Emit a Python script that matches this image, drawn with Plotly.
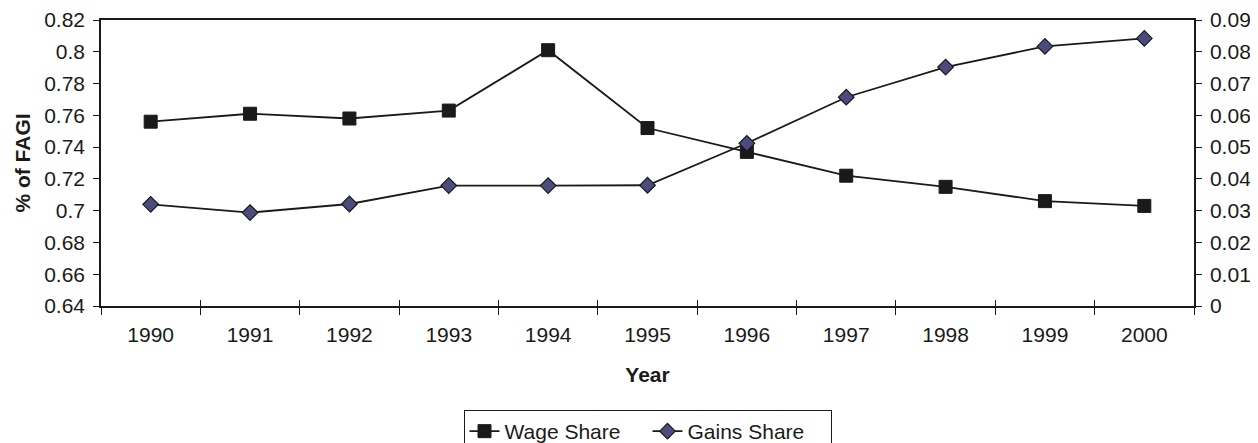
import plotly.graph_objects as go

years = ["1990", "1991", "1992", "1993", "1994", "1995", "1996", "1997", "1998", "1999", "2000"]
wage_share = [0.756, 0.761, 0.758, 0.763, 0.801, 0.752, 0.737, 0.722, 0.715, 0.706, 0.703]
gains_share = [0.032, 0.0294, 0.0321, 0.0379, 0.0379, 0.038, 0.0512, 0.0657, 0.0752, 0.0817, 0.0842]

left_ticks = [0.64, 0.66, 0.68, 0.70, 0.72, 0.74, 0.76, 0.78, 0.80, 0.82]
left_labels = ["0.64", "0.66", "0.68", "0.7", "0.72", "0.74", "0.76", "0.78", "0.8", "0.82"]
right_ticks = [0, 0.01, 0.02, 0.03, 0.04, 0.05, 0.06, 0.07, 0.08, 0.09]
right_labels = ["0", "0.01", "0.02", "0.03", "0.04", "0.05", "0.06", "0.07", "0.08", "0.09"]

FONT = "Liberation Sans, Arial, sans-serif"
INK = "#1a1a1a"
FS = 21

# the page body adds an 8px offset; figure size and margins compensate for it
fig = go.Figure()
fig.add_trace(go.Scatter(
    x=years, y=wage_share, name="Wage Share", mode="lines+markers",
    line=dict(color=INK, width=1.8),
    marker=dict(symbol="square", size=13, color=INK, line=dict(color=INK, width=1)),
))
fig.add_trace(go.Scatter(
    x=years, y=gains_share, name="Gains Share", mode="lines+markers", yaxis="y2",
    line=dict(color=INK, width=1.8),
    marker=dict(symbol="diamond", size=12, color="#4b4b7e", line=dict(color=INK, width=1.2)),
))
# invisible helper trace to render the inner half of the category boundary ticks
fig.add_trace(go.Scatter(
    x=list(range(len(years))), y=wage_share, xaxis="x3", mode="markers",
    marker=dict(opacity=0), showlegend=False, hoverinfo="skip",
))

fig.update_layout(
    width=1250, height=435,
    margin=dict(l=93, r=64, t=12, b=137, autoexpand=False),
    paper_bgcolor="white", plot_bgcolor="white",
    font=dict(family=FONT, size=FS, color=INK),
    showlegend=True,
    legend=dict(
        orientation="h", xref="paper", x=0.5, xanchor="center",
        yref="paper", y=(306 - 410) / 286, yanchor="top",
        bordercolor=INK, borderwidth=1, bgcolor="white",
        font=dict(family=FONT, size=FS, color=INK),
        itemwidth=30, tracegroupgap=0, entrywidth=138,
    ),
    xaxis=dict(
        type="category", categoryorder="array", categoryarray=years,
        range=[-0.5, len(years) - 0.5], automargin=False,
        tickson="boundaries", ticks="outside", ticklen=7, tickwidth=1, tickcolor=INK,
        ticklabelstandoff=9, ticklabeloverflow="allow",
        showline=True, linecolor=INK, linewidth=1.5, mirror=True,
        showgrid=False, zeroline=False,
        tickfont=dict(family=FONT, size=FS, color=INK),
        title=dict(text="<b>Year</b>", font=dict(family=FONT, size=FS, color=INK), standoff=22),
    ),
    xaxis3=dict(
        overlaying="x", anchor="y", range=[-0.5, len(years) - 0.5], automargin=False,
        tickmode="array", tickvals=[i - 0.5 for i in range(len(years) + 1)],
        ticks="inside", ticklen=6, tickwidth=1, tickcolor=INK,
        showticklabels=False, showline=False, showgrid=False, zeroline=False,
    ),
    yaxis=dict(
        range=[0.64, 0.82], tickmode="array", tickvals=left_ticks, ticktext=left_labels,
        ticks="outside", ticklen=6, tickwidth=1, tickcolor=INK, automargin=False,
        ticklabelstandoff=4, ticklabeloverflow="allow",
        showline=True, linecolor=INK, linewidth=1.5,
        showgrid=False, zeroline=False,
        tickfont=dict(family=FONT, size=FS, color=INK),
        title=dict(text="<b>% of FAGI</b>", font=dict(family=FONT, size=FS, color=INK), standoff=8),
    ),
    yaxis2=dict(
        range=[0, 0.09], overlaying="y", side="right", anchor="x", automargin=False,
        tickmode="array", tickvals=right_ticks, ticktext=right_labels,
        ticks="outside", ticklen=6, tickwidth=1, tickcolor=INK,
        ticklabelstandoff=4, ticklabeloverflow="allow",
        showline=True, linecolor=INK, linewidth=1.5,
        showgrid=False, zeroline=False,
        tickfont=dict(family=FONT, size=FS, color=INK),
    ),
)

fig.write_html("out.html")
